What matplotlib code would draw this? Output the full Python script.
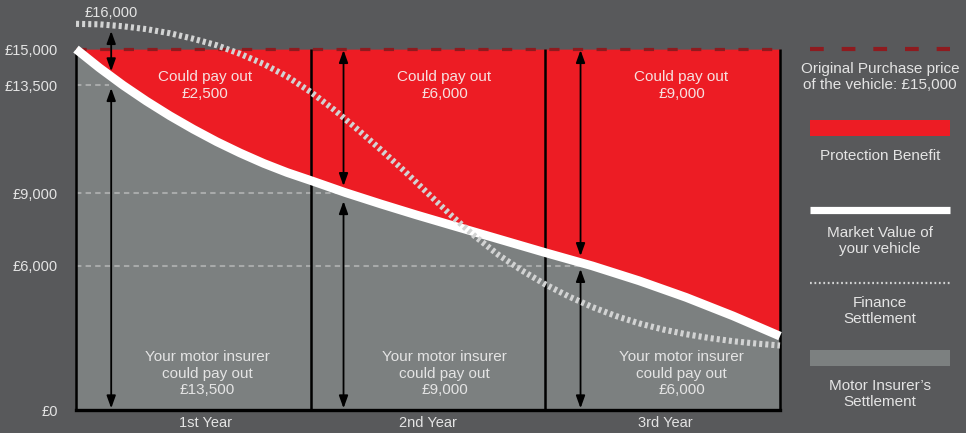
import matplotlib
matplotlib.use("Agg")
import matplotlib.pyplot as plt
from matplotlib.patches import Rectangle

# ---------------- data ----------------
mv_t = [0.0, 0.1, 0.2, 0.3, 0.4, 0.5, 0.6, 0.7, 0.8, 0.9, 1.0, 1.15, 1.3, 1.45,
        1.6, 1.8, 2.0, 2.2, 2.4, 2.6, 2.8, 3.0]
mv_val = [15000, 14220, 13500, 12840, 12230, 11670, 11150, 10680, 10250, 9870,
          9540, 9030, 8560, 8110, 7680, 7110, 6540, 5990, 5370, 4680, 3910, 3070]

fin_t = [0.0, 0.1, 0.2, 0.3, 0.4, 0.5, 0.6, 0.7, 0.8, 0.9, 1.0, 1.1, 1.2, 1.3,
         1.4, 1.5, 1.6, 1.7, 1.8, 1.9, 2.0, 2.1, 2.2, 2.3, 2.4, 2.5, 2.6, 2.7,
         2.8, 2.9, 3.0]
fin_val = [16050, 16030, 15950, 15830, 15660, 15430, 15160, 14800, 14380, 13860,
           13220, 12480, 11660, 10810, 9930, 9000, 8080, 7220, 6450, 5800, 5220,
           4720, 4280, 3910, 3600, 3350, 3150, 2990, 2860, 2760, 2680]

purchase_price = 15000
year_bounds = [0, 1, 2, 3]
year_labels = ["1st Year", "2nd Year", "3rd Year"]
year_label_t = [0.55, 1.50, 2.51]

ytick_vals = [0, 6000, 9000, 13500, 15000]
ytick_labels = ["£0", "£6,000", "£9,000", "£13,500", "£15,000"]
grid_vals = [9000, 6000]
grid13500_end = 0.14

arrow_t = [0.15, 1.14, 2.15]
upper_top = [15750, 14960, 14960]
upper_bot = [14080, 9310, 6400]
lower_top = [13380, 8680, 5860]
lower_bot = [70, 70, 70]

benefit_labels = ["Could pay out\n£2,500", "Could pay out\n£6,000", "Could pay out\n£9,000"]
benefit_t = [0.55, 1.57, 2.58]
benefit_y = 13480
insurer_labels = ["Your motor insurer\ncould pay out\n£13,500",
                  "Your motor insurer\ncould pay out\n£9,000",
                  "Your motor insurer\ncould pay out\n£6,000"]
insurer_t = [0.56, 1.57, 2.58]
insurer_y = 1500

legend_texts = ["Original Purchase price\nof the vehicle: £15,000",
                "Protection Benefit",
                "Market Value of\nyour vehicle",
                "Finance\nSettlement",
                "Motor Insurer\u2019s\nSettlement"]

# ---------------- style ----------------
BG = "#58595b"
RED = "#ed1c24"
DARKRED = "#8e1b1f"
GREYFILL = "#7c8080"
TXT = "#e4e4e4"
TXT_RED = "#f6e0e0"
DOT = "#d2d3d3"
GRID = "#a8aaaa"
FONT = ["Liberation Sans", "DejaVu Sans"]
LS = 1.22

plt.rcParams["font.family"] = FONT

fig = plt.figure(figsize=(9.66, 4.33), dpi=100, facecolor=BG)
ax = fig.add_axes([76 / 966, 23 / 433, 704 / 966, 409 / 433])
ax.set_facecolor(BG)
ax.set_xlim(0, 3)
ax.set_ylim(0, 17000)
for s in ax.spines.values():
    s.set_visible(False)

# fills
ax.fill_between(mv_t, 0, mv_val, color=GREYFILL, lw=0, zorder=1)
for g in grid_vals:
    ax.plot([0, 3], [g, g], color=GRID, lw=1.5, dashes=(2.6, 2.0), zorder=2)
ax.plot([0, grid13500_end], [13500, 13500], color=GRID, lw=1.5, dashes=(2.6, 2.0), zorder=2)
ax.fill_between(mv_t, mv_val, purchase_price, color=RED, lw=0, zorder=3)

# purchase price dashed line
ax.plot([0, 3], [purchase_price, purchase_price], color=DARKRED, lw=2.3,
        dashes=(3.2, 4.2), zorder=4)

# vertical year boundaries and baseline
for b in year_bounds:
    ax.plot([b, b], [0, purchase_price], color="black", lw=1.8, zorder=5,
            solid_capstyle="butt", clip_on=False)
ax.plot([0, 3], [0, 0], color="black", lw=2.4, zorder=5, clip_on=False,
        solid_capstyle="projecting")

# arrows
aprops = dict(arrowstyle="<|-|>,head_length=0.75,head_width=0.27", color="black",
              lw=1.3, shrinkA=0, shrinkB=0, mutation_scale=10)
for t, a, b, c, d in zip(arrow_t, upper_top, upper_bot, lower_top, lower_bot):
    ax.annotate("", xy=(t, a), xytext=(t, b), arrowprops=aprops, zorder=6)
    ax.annotate("", xy=(t, c), xytext=(t, d), arrowprops=aprops, zorder=6)

# market value line
ax.plot(mv_t, mv_val, color="white", lw=6.3, zorder=7, solid_capstyle="butt",
        solid_joinstyle="round", clip_on=False)
# finance settlement
ax.plot(fin_t, fin_val, color=DOT, lw=4.4, dashes=(0.5, 0.5), zorder=8,
        dash_capstyle="butt", clip_on=False)

# texts
for lab, t in zip(benefit_labels, benefit_t):
    ax.text(t, benefit_y, lab, color=TXT_RED, fontsize=11, ha="center",
            va="center", linespacing=LS, zorder=9)
for lab, t in zip(insurer_labels, insurer_t):
    ax.text(t, insurer_y, lab, color=TXT, fontsize=11, ha="center",
            va="center", linespacing=LS, zorder=9)
ax.annotate("£16,000", xy=(arrow_t[0], 16000), xytext=(0, 9),
            textcoords="offset points", color=TXT, fontsize=10.5,
            ha="center", va="center")

ax.set_yticks(ytick_vals)
ax.set_yticklabels(ytick_labels)
ax.set_xticks(year_label_t)
ax.set_xticklabels(year_labels)
ax.tick_params(axis="y", length=0, pad=13, colors=TXT, labelsize=10.5)
ax.tick_params(axis="x", length=0, pad=4, colors=TXT, labelsize=10.5)

# ---------------- legend (pixel coords) ----------------
lg = fig.add_axes([0, 0, 1, 1], facecolor="none")
lg.set_xlim(0, 966)
lg.set_ylim(433, 0)
lg.axis("off")
x0, x1, xc = 810, 950, 880
lg.plot([x0, x1], [49, 49], color=DARKRED, lw=3.0, dashes=(3.3, 4.3))
lg.text(xc, 77, legend_texts[0], color=TXT, fontsize=11, ha="center", va="center",
        linespacing=LS)
lg.add_patch(Rectangle((x0, 120), x1 - x0, 16, color=RED, lw=0))
lg.text(xc, 156, legend_texts[1], color=TXT, fontsize=11, ha="center", va="center")
lg.plot([x0, x1], [210, 210], color="white", lw=5.2, solid_capstyle="butt")
lg.text(xc, 241, legend_texts[2], color=TXT, fontsize=11, ha="center", va="center",
        linespacing=LS)
lg.plot([x0, x1], [283, 283], color=DOT, lw=1.6, dashes=(0.8, 1.2))
lg.text(xc, 311, legend_texts[3], color=TXT, fontsize=11, ha="center", va="center",
        linespacing=LS)
lg.add_patch(Rectangle((x0, 350), x1 - x0, 16, color=GREYFILL, lw=0))
lg.text(xc, 394, legend_texts[4], color=TXT, fontsize=11, ha="center", va="center",
        linespacing=LS)

fig.savefig("out.png", dpi=100, facecolor=BG)
